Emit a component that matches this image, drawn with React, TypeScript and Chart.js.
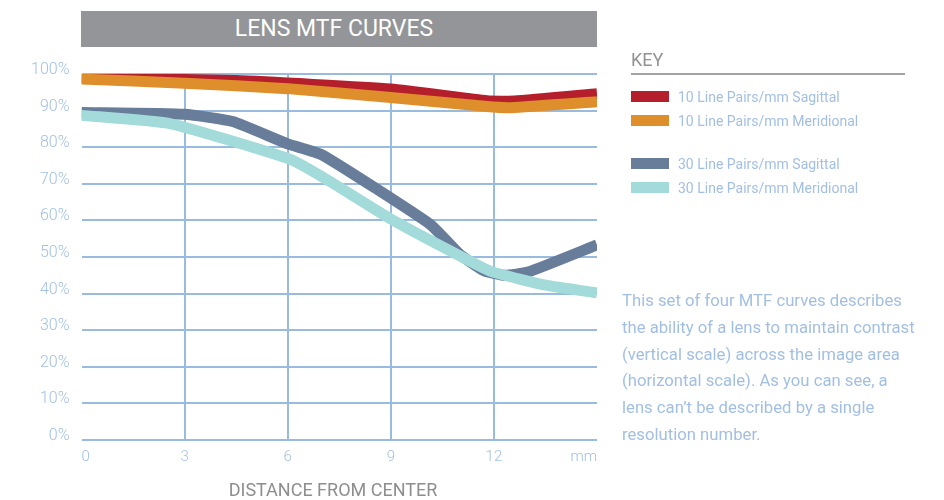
import React, { useEffect, useRef } from "react";
import { Chart, registerables } from "chart.js";

Chart.register(...registerables);

// ---- data (distance from center in mm, MTF in %) ----
const sag10Dist = [0, 4.5, 9, 11.8, 12.6, 15];
const sag10Mtf = [99.0, 98.2, 95.9, 92.7, 92.6, 94.6];

const mer10Dist = [0, 3, 6, 9, 11.8, 12.5, 15];
const mer10Mtf = [98.6, 97.5, 96.0, 93.6, 91.1, 90.8, 92.4];

const sag30Dist = [0, 3, 4.4, 6, 7, 10.15, 11, 11.7, 12.3, 13, 15];
const sag30Mtf = [89.5, 89.0, 87.0, 80.9, 77.9, 58.9, 50.8, 46.3, 45.0, 45.9, 53.3];

const mer30Dist = [0, 2.6, 6.1, 7.2, 9, 11.3, 12, 13.5, 15];
const mer30Mtf = [88.7, 86.4, 76.6, 70.8, 60.4, 48.9, 45.8, 42.3, 40.2];

const xTickValues = [0, 3, 6, 9, 12, 15];
const xTickLabels = ["0", "3", "6", "9", "12", "mm"];

const seriesNames = [
  "10 Line Pairs/mm Sagittal",
  "10 Line Pairs/mm Meridional",
  "30 Line Pairs/mm Sagittal",
  "30 Line Pairs/mm Meridional",
];
const seriesColors = ["#b51f2b", "#df8e2c", "#677d9a", "#a2dbd9"];

const chartTitle = "LENS MTF CURVES";
const xAxisTitle = "DISTANCE FROM CENTER";
const keyTitle = "KEY";
const descriptionLines = [
  "This set of four MTF curves describes",
  "the ability of a lens to maintain contrast",
  "(vertical scale) across the image area",
  "(horizontal scale). As you can see, a",
  "lens can\u2019t be described by a single",
  "resolution number.",
];

const FONT = "Roboto, 'Noto Sans', sans-serif";
const GRID = "#99bbdf";
const TICK = "#a2c0e3";

function pts(xs: number[], ys: number[]) {
  return xs.map((x, i) => ({ x, y: ys[i] }));
}

export default function App() {
  const canvasRef = useRef<HTMLCanvasElement | null>(null);

  useEffect(() => {
    const canvas = canvasRef.current;
    if (!canvas) return;
    const all = [
      [sag10Dist, sag10Mtf],
      [mer10Dist, mer10Mtf],
      [sag30Dist, sag30Mtf],
      [mer30Dist, mer30Mtf],
    ];
    const orders = [4, 3, 2, 1];
    const chart = new Chart(canvas, {
      type: "line",
      data: {
        datasets: all.map((s, i) => ({
          label: seriesNames[i],
          data: pts(s[0], s[1]),
          borderColor: seriesColors[i],
          backgroundColor: seriesColors[i],
          borderWidth: 11,
          pointRadius: 0,
          tension: 0.15,
          borderJoinStyle: "round" as const,
          borderCapStyle: "butt" as const,
          order: orders[i],
          fill: false,
        })),
      },
      options: {
        animation: false,
        responsive: false,
        maintainAspectRatio: false,
        layout: { padding: { left: 0, top: 74, right: 347, bottom: 0 } },
        plugins: {
          legend: { display: false },
          tooltip: { enabled: false },
          title: { display: false },
        },
        scales: {
          x: {
            type: "linear",
            min: 0,
            max: 15,
            afterBuildTicks: (scale: any) => {
              scale.ticks = xTickValues.map((v) => ({ value: v }));
            },
            afterFit: (scale: any) => {
              scale.height = 60;
            },
            ticks: {
              align: "inner",
              padding: 8,
              color: TICK,
              font: { family: FONT, size: 15, weight: "300" },
              callback: (v: any) => {
                const i = xTickValues.indexOf(Number(v));
                return i >= 0 ? xTickLabels[i] : "";
              },
            },
            grid: {
              drawTicks: false,
              lineWidth: 2,
              color: (ctx: any) =>
                ctx.tick && (ctx.tick.value === 0 || ctx.tick.value === 15)
                  ? "rgba(0,0,0,0)"
                  : GRID,
            },
            border: { display: false },
          },
          y: {
            min: 0,
            max: 100,
            afterFit: (scale: any) => {
              scale.width = 81.5;
            },
            ticks: {
              stepSize: 10,
              padding: 12,
              labelOffset: -4,
              color: TICK,
              font: { family: FONT, size: 16, weight: "300" },
              callback: (v: any) => v + "%",
            },
            grid: { drawTicks: false, lineWidth: 2, color: GRID },
            border: { display: false },
          },
        },
      },
    });
    return () => chart.destroy();
  }, []);

  return (
    <div
      style={{
        position: "absolute",
        left: 0,
        top: 0,
        width: 944,
        height: 500,
        background: "#ffffff",
        fontFamily: FONT,
        overflow: "hidden",
      }}
    >
      <canvas
        ref={canvasRef}
        width={944}
        height={500}
        style={{ position: "absolute", left: 0, top: 0, width: 944, height: 500 }}
      />
      {/* Title bar */}
      <div
        style={{
          position: "absolute",
          left: 81,
          top: 11,
          width: 516,
          height: 36,
          background: "#939598",
        }}
      />
      <div
        style={{
          position: "absolute",
          left: 234,
          top: 11,
          width: 200,
          height: 36,
          lineHeight: "36px",
          textAlign: "center",
          color: "#ffffff",
          fontSize: 23,
          fontWeight: 400,
          whiteSpace: "nowrap",
        }}
      >
        {chartTitle}
      </div>
      {/* X axis title */}
      <div
        style={{
          position: "absolute",
          left: 183,
          top: 478,
          width: 300,
          height: 24,
          lineHeight: "24px",
          textAlign: "center",
          color: "#8e8e8e",
          fontSize: 18,
          fontWeight: 400,
          whiteSpace: "nowrap",
        }}
      >
        {xAxisTitle}
      </div>
      {/* Key */}
      <div
        style={{
          position: "absolute",
          left: 631,
          top: 48,
          height: 24,
          lineHeight: "24px",
          color: "#939393",
          fontSize: 18,
          fontWeight: 400,
        }}
      >
        {keyTitle}
      </div>
      <div
        style={{
          position: "absolute",
          left: 631,
          top: 73,
          width: 274,
          height: 2,
          background: "#a3a3a3",
        }}
      />
      {seriesNames.map((name, i) => {
        const top = [91, 115, 158, 182][i];
        return (
          <React.Fragment key={name}>
            <div
              style={{
                position: "absolute",
                left: 631,
                top,
                width: 38,
                height: 11,
                background: seriesColors[i],
              }}
            />
            <div
              style={{
                position: "absolute",
                left: 678,
                top: top - 4,
                height: 20,
                lineHeight: "20px",
                color: "#a2bfe3",
                fontSize: 14,
                fontWeight: 400,
                whiteSpace: "nowrap",
              }}
            >
              {name}
            </div>
          </React.Fragment>
        );
      })}
      {/* Description */}
      <div
        style={{
          position: "absolute",
          left: 622,
          top: 288,
          lineHeight: "26.8px",
          color: "#a2bfe3",
          fontSize: 16.7,
          fontWeight: 400,
          whiteSpace: "nowrap",
        }}
      >
        {descriptionLines.map((l, i) => (
          <div key={i}>{l}</div>
        ))}
      </div>
    </div>
  );
}
